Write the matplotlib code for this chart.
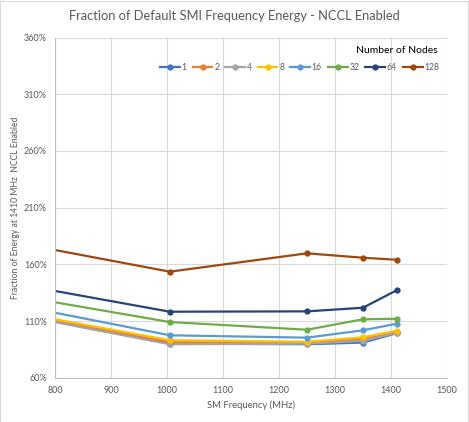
import matplotlib
matplotlib.use("Agg")
import matplotlib.pyplot as plt
from matplotlib.ticker import FuncFormatter

plt.rcParams['font.family'] = ['Lato', 'DejaVu Sans']

# data
freq = [800, 1005, 1250, 1350, 1410]
nodes = ['1', '2', '4', '8', '16', '32', '64', '128']
energy = {
    '1':   [109.5, 90.0, 89.5, 91.0, 99.2],
    '2':   [110.5, 91.5, 90.5, 94.0, 100.0],
    '4':   [109.0, 89.5, 90.0, 92.5, 99.5],
    '8':   [111.5, 93.0, 91.7, 95.6, 101.4],
    '16':  [117.3, 97.4, 95.3, 101.8, 107.6],
    '32':  [126.5, 109.1, 102.3, 111.5, 112.0],
    '64':  [136.5, 118.2, 118.5, 121.7, 137.1],
    '128': [172.6, 153.5, 169.7, 165.8, 164.0],
}
colors = ['#4472C4', '#ED7D31', '#A5A5A5', '#FFC000',
          '#5B9BD5', '#70AD47', '#264478', '#9E480E']

fig = plt.figure(figsize=(4.69, 4.22), dpi=100)
ax = fig.add_axes([0.1173, 0.105, 0.8358, 0.806])

for n, c in zip(nodes, colors):
    ax.plot(freq, energy[n], color=c, lw=1.6, marker='o', ms=3.5,
            markevery=[1, 2, 3, 4], label=n)

ax.set_xlim(800, 1500)
ax.set_ylim(60, 360)
ax.set_xticks(range(800, 1501, 100))
ax.set_yticks(range(60, 361, 50))
ax.yaxis.set_major_formatter(FuncFormatter(lambda v, p: '%d%%' % v))
ax.grid(True, color='#D9D9D9', lw=0.8)
ax.set_axisbelow(True)
for s in ['top', 'right']:
    ax.spines[s].set_visible(False)
for s in ['left', 'bottom']:
    ax.spines[s].set_color('#BFBFBF')
ax.tick_params(length=0, labelsize=6.5, colors='#595959', pad=6)

ax.set_xlabel('SM Frequency (MHz)', fontsize=6.8, color='#595959', labelpad=4)
ax.set_ylabel('Fraction of Energy at 1410 MHz  NCCL Enabled', fontsize=6.2,
              color='#595959', labelpad=3)
fig.text(0.5, 0.962, 'Fraction of Default SMI Frequency Energy - NCCL Enabled',
         ha='center', va='center', fontsize=9.3, color='#595959')

ax.text(0.975, 0.963, 'Number of Nodes', transform=ax.transAxes,
        ha='right', va='center', fontsize=7.5, color='black')
ax.legend(loc='center right', bbox_to_anchor=(1.0, 0.913), ncol=8,
          frameon=False, fontsize=6.2, handlelength=2.3, handletextpad=0.2,
          columnspacing=0.7, labelcolor='#595959')

fig.patches.append(plt.Rectangle((0.001, 0.001), 0.997, 0.997,
                                 transform=fig.transFigure, fill=False,
                                 ec='#D9D9D9', lw=0.8))
fig.savefig('out.png', dpi=100)
